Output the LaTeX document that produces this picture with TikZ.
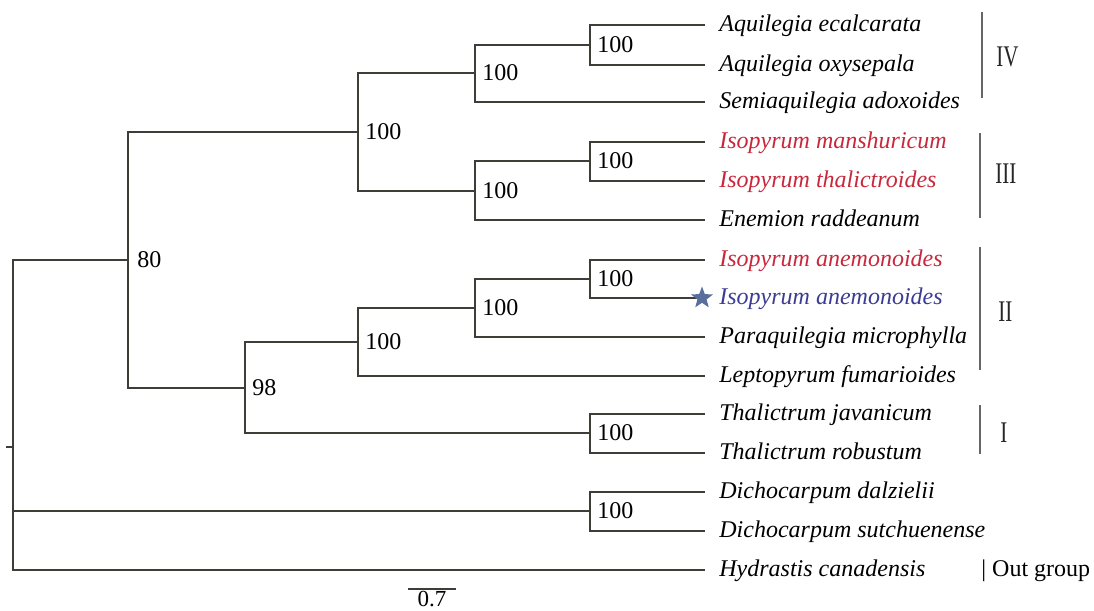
\documentclass[tikz,border=0pt]{standalone}
\usepackage{fontspec}
\usepackage{graphicx}
\setmainfont{Liberation Serif}
\usetikzlibrary{shapes.geometric}

\definecolor{treeline}{HTML}{3E3E38}
\definecolor{isored}{HTML}{C8283C}
\definecolor{isoblue}{HTML}{3C3C96}
\definecolor{starblue}{HTML}{5A6E9B}

\tikzset{
  branch/.style={draw=treeline, line width=0.7pt},
  taxon/.style={anchor=mid west, inner sep=0pt, font=\itshape\fontsize{12}{14}\selectfont},
  boot/.style={anchor=west, inner sep=0pt, xshift=3.5pt, font=\fontsize{12}{14}\selectfont},
  cladebar/.style={draw=black!60, line width=0.8pt},
  cladename/.style={anchor=west, inner sep=0pt, text=black!85, font=\fontsize{15}{17}\selectfont}
}

\begin{document}
\begin{tikzpicture}[x=0.5pt,y=-0.5pt]
  \useasboundingbox (0,0) rectangle (1094,611);

  % leaves
  \foreach \i/\y/\name/\col in {
      1/25/Aquilegia ecalcarata/black,
      2/65/Aquilegia oxysepala/black,
      3/102/Semiaquilegia adoxoides/black,
      4/142/Isopyrum manshuricum/isored,
      5/181/Isopyrum thalictroides/isored,
      6/220/Enemion raddeanum/black,
      7/260/Isopyrum anemonoides/isored,
      8/298/Isopyrum anemonoides/isoblue,
      9/337/Paraquilegia microphylla/black,
      10/376/Leptopyrum fumarioides/black,
      11/414/Thalictrum javanicum/black,
      12/453/Thalictrum robustum/black,
      13/492/Dichocarpum dalzielii/black,
      14/531/Dichocarpum sutchuenense/black,
      15/570/Hydrastis canadensis/black} {
    \coordinate (t\i) at (705,\y);
    \node[taxon, text=\col] (lab\i) at (719,\y+2) {\name};
  }

  % internal nodes
  \coordinate (n1) at (590,45);
  \coordinate (n2) at (475,73);
  \coordinate (n3) at (590,161);
  \coordinate (n4) at (475,191);
  \coordinate (n5) at (358,132);
  \coordinate (n6) at (590,279);
  \coordinate (n7) at (475,308);
  \coordinate (n8) at (358,342);
  \coordinate (n9) at (590,433);
  \coordinate (n10) at (245,388);
  \coordinate (n11) at (128,260);
  \coordinate (n12) at (590,511);
  \coordinate (root) at (13,447);
  \coordinate (rootend) at (6,447);

  % branches
  \draw[branch] (n1) |- (t1) (n1) |- (t2);
  \draw[branch] (n2) |- (n1) (n2) |- (t3);
  \draw[branch] (n3) |- (t4) (n3) |- (t5);
  \draw[branch] (n4) |- (n3) (n4) |- (t6);
  \draw[branch] (n5) |- (n2) (n5) |- (n4);
  \draw[branch] (n6) |- (t7) (n6) |- (t8);
  \draw[branch] (n7) |- (n6) (n7) |- (t9);
  \draw[branch] (n8) |- (n7) (n8) |- (t10);
  \draw[branch] (n9) |- (t11) (n9) |- (t12);
  \draw[branch] (n10) |- (n8) (n10) |- (n9);
  \draw[branch] (n11) |- (n5) (n11) |- (n10);
  \draw[branch] (n12) |- (t13) (n12) |- (t14);
  \draw[branch] (root) |- (n11) (root) |- (n12) (root) |- (t15);
  \draw[branch] (rootend) -- (root);

  % bootstrap values
  \foreach \n in {n1,n2,n3,n4,n5,n6,n7,n8,n9,n12}
    \node[boot] at (\n) {100};
  \node[boot, xshift=1pt] at (n11) {80};
  \node[boot] at (n10) {98};

  % sample marker
  \node[star, star points=5, star point ratio=2.4, fill=starblue, inner sep=0pt,
        minimum size=11.5pt] (mark) at (702,298) {};

  % clades
  \coordinate (c4a) at (982,12);  \coordinate (c4b) at (982,98);
  \coordinate (c3a) at (980,133); \coordinate (c3b) at (980,218);
  \coordinate (c2a) at (980,247); \coordinate (c2b) at (980,370);
  \coordinate (c1a) at (980,405); \coordinate (c1b) at (980,454);
  \draw[cladebar] (c4a) -- (c4b);
  \draw[cladebar] (c3a) -- (c3b);
  \draw[cladebar] (c2a) -- (c2b);
  \draw[cladebar] (c1a) -- (c1b);
  \node[cladename] (cl4) at (996,57) {\scalebox{0.7}[1]{IV}};
  \node[cladename] (cl3) at (995,174) {\scalebox{0.7}[1]{III}};
  \node[cladename] (cl2) at (998,312) {\scalebox{0.7}[1]{II}};
  \node[cladename] (cl1) at (1000,433) {\scalebox{0.7}[1]{I}};
  \node[anchor=mid west, inner sep=0pt, font=\fontsize{12}{14}\selectfont] (outg) at (981,572) {| Out group};

  % scale bar
  \coordinate (sb1) at (408,589);
  \coordinate (sb2) at (456,589);
  \draw[branch] (sb1) -- (sb2) node[midway, below=0.5pt, inner sep=0pt, font=\fontsize{11.5}{13}\selectfont] {0.7};
\end{tikzpicture}
\end{document}
